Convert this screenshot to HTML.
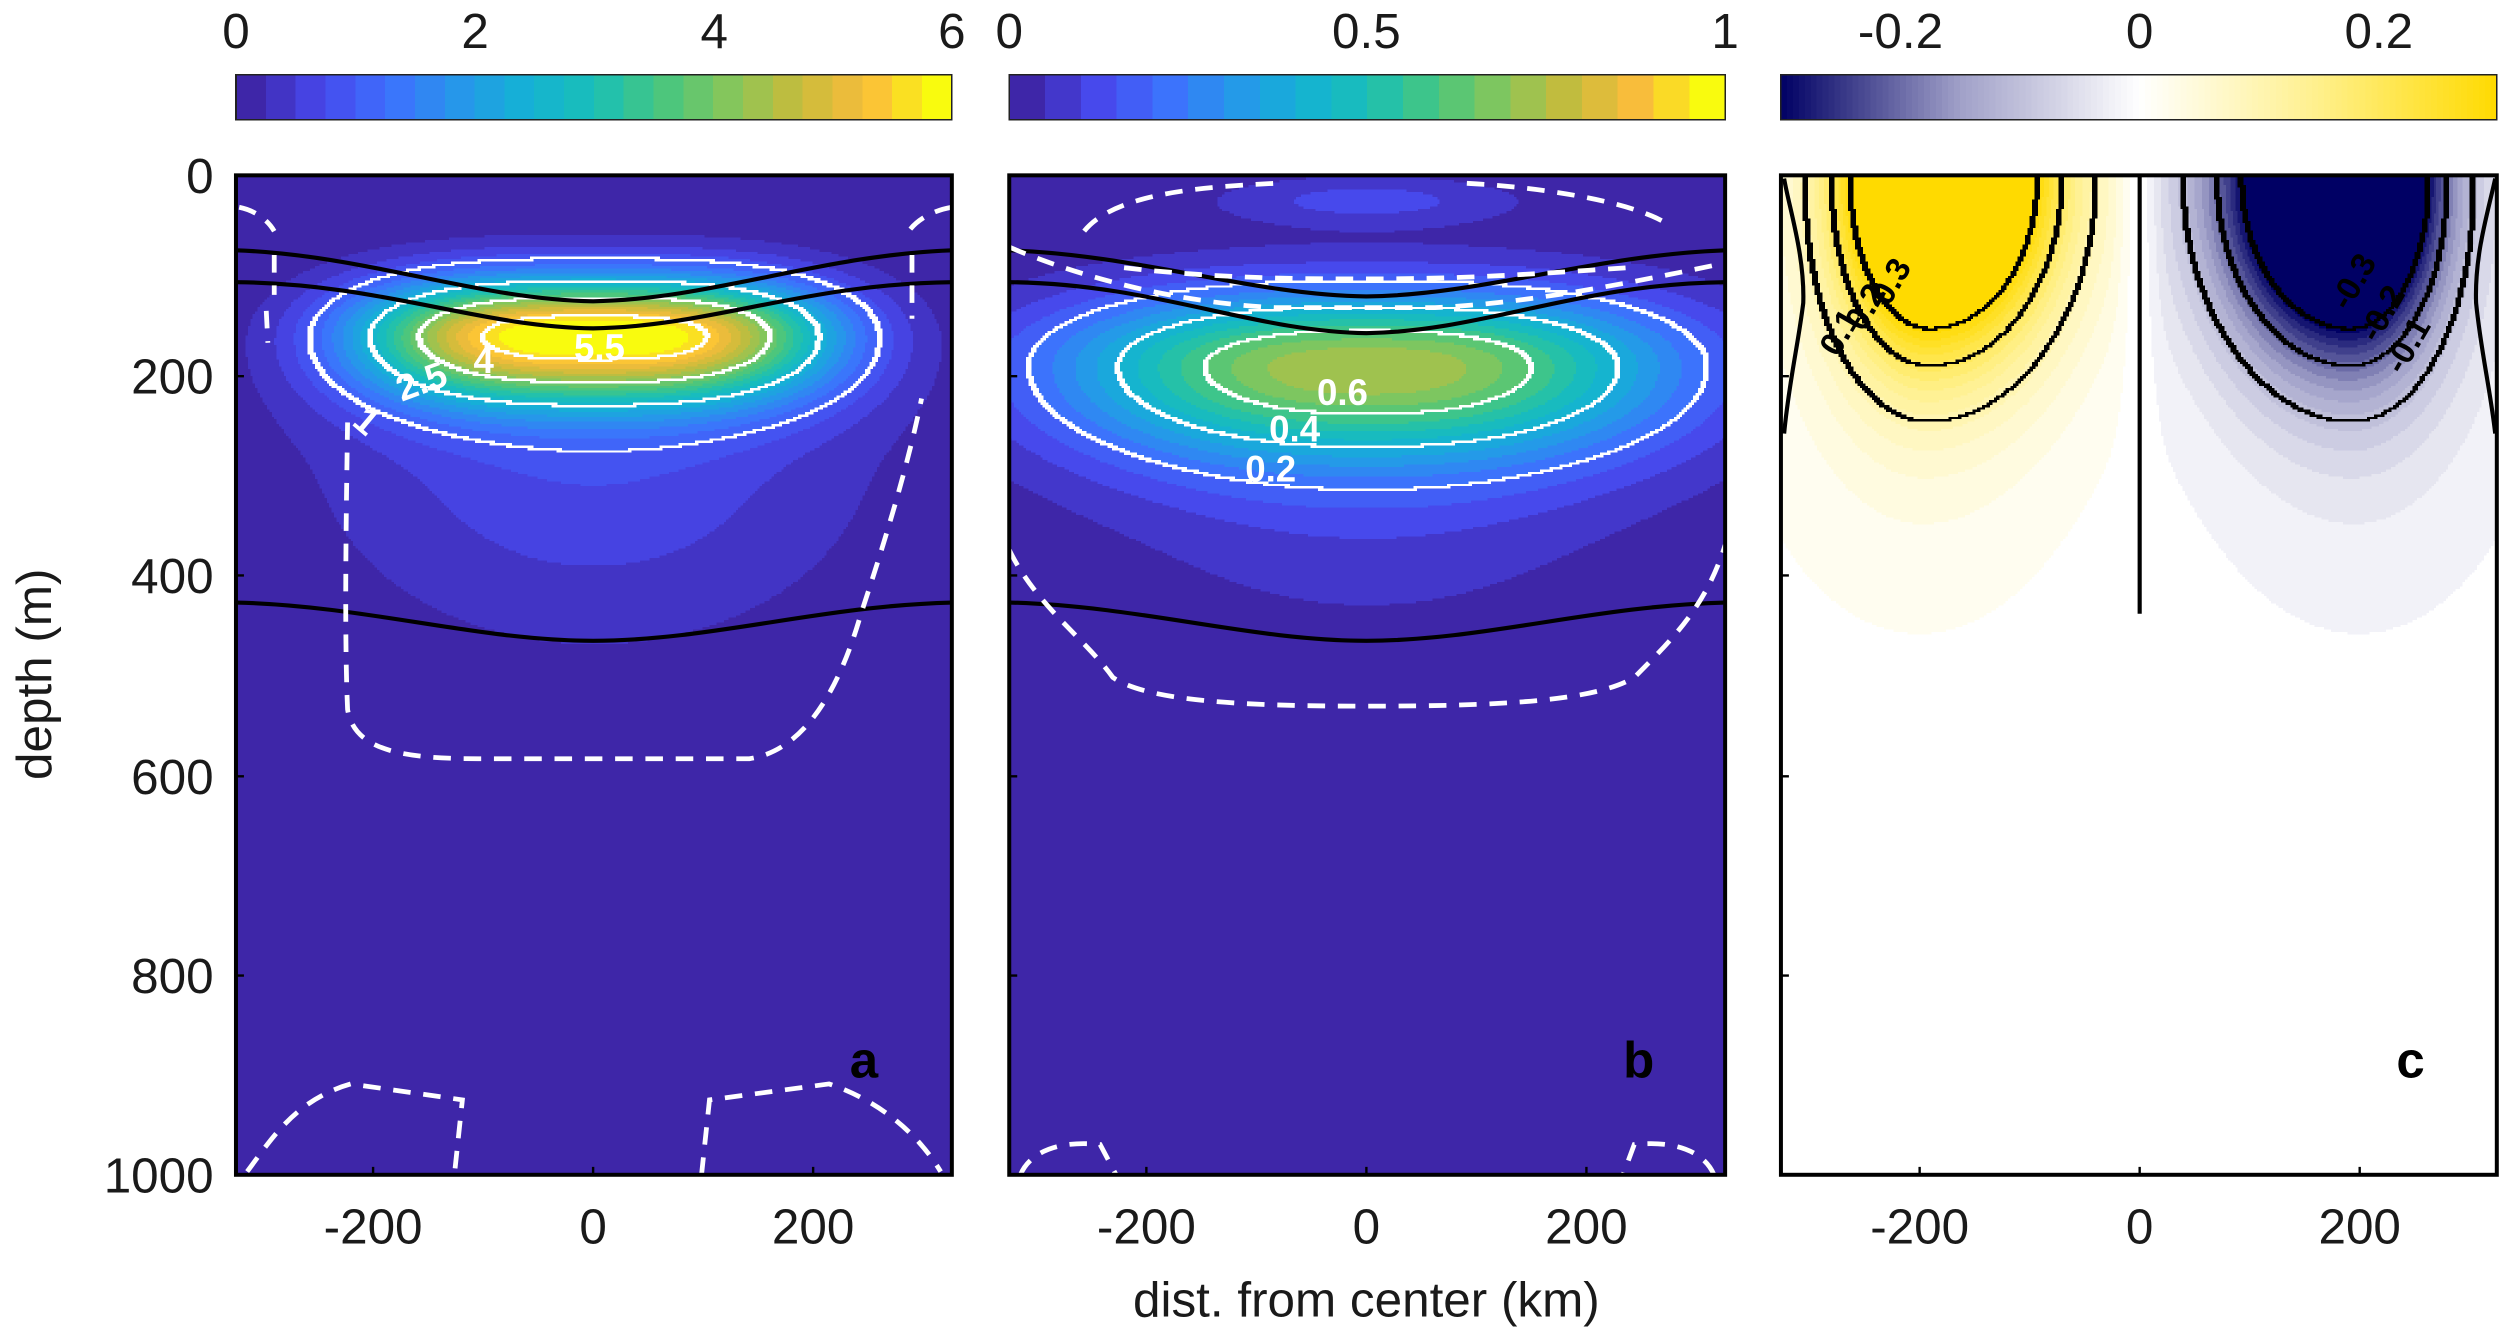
<!DOCTYPE html>
<html><head><meta charset="utf-8"><style>
html,body{margin:0;padding:0;background:#fff;}
#wrap{position:relative;width:2500px;height:1331px;overflow:hidden;}
svg{position:absolute;left:0;top:0;}
text{font-family:"Liberation Sans","DejaVu Sans",sans-serif;}
</style></head><body>
<div id="wrap">
<svg id="sv" width="2500" height="1331" viewBox="0 0 1568 835" preserveAspectRatio="none">
<g id="fields" shape-rendering="crispEdges"></g>
<g id="cbars" shape-rendering="crispEdges"></g>
<g fill="none" stroke="#000" stroke-width="2.6">
<path d="M148,157 C230,160 300,188 372,189 C445,188 515,160 597,157"/>
<path d="M148,177 C240,178 300,205 372,206 C445,205 505,178 597,177"/>
<path d="M148,378 C230,380 300,402 372,402 C445,402 515,380 597,378"/>
<path d="M633,157 C715,160 785,185 857,186 C930,185 1000,160 1082,157"/>
<path d="M633,177 C725,178 785,208 857,209 C930,208 990,178 1082,177"/>
<path d="M633,378 C715,380 785,402 857,402 C930,402 1000,380 1082,378"/>
<path d="M1342,110 L1342,385"/>
<path d="M1119,112 C1122,130 1132,160 1131,190 C1128,215 1122,240 1119,272"/>
<path d="M1565,112 C1560,135 1552,160 1553,190 C1556,220 1562,245 1565,272"/>
</g>
<g fill="none" stroke="#fff" stroke-width="3" stroke-dasharray="11 8">
<path d="M150,130 C160,132 168,138 172,145 M172,160 L172,185 M167,195 L168,215"/>
<path d="M218,265 C217,330 216,400 218,445 C222,470 250,476 300,476 L470,476 C510,470 530,420 540,385 C555,340 570,290 578,250"/>
<path d="M597,130 C585,132 575,138 570,145 M572,160 L572,200"/>
<path d="M155,735 C170,715 185,690 220,680 L290,690 L285,737"/>
<path d="M440,737 L445,690 L520,680 C550,690 575,710 590,735"/>
<path d="M680,145 C700,120 760,117 800,115 M920,115 C960,117 1020,125 1045,140"/>
<path d="M705,168 C760,174 800,175 857,175 C920,175 960,172 1020,168"/>
<path d="M633,155 C680,175 740,190 800,193 L900,193 C960,190 1020,178 1082,165"/>
<path d="M633,345 C650,380 680,400 698,425 C720,440 780,443 857,443 C940,443 1000,440 1025,425 C1050,400 1070,380 1082,342"/>
<path d="M640,737 C645,725 660,715 690,718 L700,737"/>
<path d="M1075,737 C1070,725 1055,715 1025,718 L1018,737"/>
</g>
<g fill="none" stroke="#000" stroke-width="2.5">
<rect x="148" y="110" width="449" height="627"/>
<rect x="633" y="110" width="449" height="627"/>
<rect x="1117" y="110" width="449" height="627"/>
</g>
<g stroke="#000" stroke-width="1.5">
<path d="M148,236h5M148,361h5M148,487h5M148,612h5M633,236h5M633,361h5M633,487h5M633,612h5M1117,236h5M1117,361h5M1117,487h5M1117,612h5"/>
<path d="M234,737v-5M372,737v-5M510,737v-5M719,737v-5M857,737v-5M995,737v-5M1204,737v-5M1342,737v-5M1480,737v-5"/>
</g>
<g font-size="31" fill="#1a1a1a" text-anchor="end">
<text x="134" y="121">0</text><text x="134" y="247">200</text><text x="134" y="372">400</text>
<text x="134" y="498">600</text><text x="134" y="623">800</text><text x="134" y="748">1000</text>
</g>
<g font-size="31" fill="#1a1a1a" text-anchor="middle">
<text x="234" y="780">-200</text><text x="372" y="780">0</text><text x="510" y="780">200</text>
<text x="719" y="780">-200</text><text x="857" y="780">0</text><text x="995" y="780">200</text>
<text x="1204" y="780">-200</text><text x="1342" y="780">0</text><text x="1480" y="780">200</text>
<text x="148" y="30">0</text><text x="298" y="30">2</text><text x="448" y="30">4</text><text x="597" y="30">6</text>
<text x="633" y="30">0</text><text x="857" y="30">0.5</text><text x="1082" y="30">1</text>
<text x="1192" y="30">-0.2</text><text x="1342" y="30">0</text><text x="1492" y="30">0.2</text>
<text x="857" y="826">dist. from center (km)</text>
<text transform="translate(32,423) rotate(-90)">depth (m)</text>
</g>
<g font-size="32" font-weight="bold" fill="#000">
<text x="533" y="676">a</text><text x="1018" y="676">b</text><text x="1503" y="676">c</text>
</g>
<g font-size="23" font-weight="bold" fill="#fff">
<text x="360" y="226">5.5</text>
<text x="297" y="234">4</text>
<text transform="translate(252,252) rotate(-20)">2.5</text>
<text transform="translate(220,266) rotate(40)">1</text>
<text x="826" y="254">0.6</text>
<text x="796" y="277">0.4</text>
<text x="781" y="302">0.2</text>
</g>
<g font-size="21" font-weight="bold" fill="#000" text-anchor="middle">
<text transform="translate(1192,180) rotate(-60)">0.3</text>
<text transform="translate(1176,196) rotate(-60)">0.2</text>
<text transform="translate(1160,212) rotate(-60)">0.1</text>
<text transform="translate(1482,180) rotate(-60)">-0.3</text>
<text transform="translate(1500,200) rotate(-60)">-0.2</text>
<text transform="translate(1516,220) rotate(-60)">-0.1</text>
</g>
</svg>
</div>
<script>
(function(){
var stops=[[0,62,38,168],[0.1,71,71,235],[0.2,62,111,254],[0.3,39,150,235],[0.4,20,177,213],[0.5,25,191,183],[0.6,71,198,127],[0.7,135,198,90],[0.8,200,187,59],[0.9,251,189,59],[1,249,251,14]];
function parula(t){t=Math.max(0,Math.min(1,t));for(var i=1;i<stops.length;i++){if(t<=stops[i][0]){var a=stops[i-1],b=stops[i];var u=(t-a[0])/(b[0]-a[0]);return [a[1]+(b[1]-a[1])*u,a[2]+(b[2]-a[2])*u,a[3]+(b[3]-a[3])*u];}}return [249,251,14];}
function dv(t){var u;
 if(t>=0){ if(t<0.5){u=t/0.5;return [255,255-15*u,255-115*u];} u=(t-0.5)/0.5;return [255,240-22*u,140-140*u];}
 t=-t; if(t<0.5){u=t/0.5;return [255-95*u,255-95*u,255-55*u];} u=(t-0.5)/0.5;return [160-160*u,160-160*u,200-100*u];}
function rgb(c){return 'rgb('+Math.round(c[0])+','+Math.round(c[1])+','+Math.round(c[2])+')';}
function fa(x,d){var gx=Math.exp(-Math.pow(Math.abs(x/210),3));var s=d<160?56:66;var q=(d-160)/s;var main=5.9*gx*Math.exp(-q*q);
 var r=(d-270)/(d<270?110:190);var tail=0.75*Math.exp(-(x/240)*(x/240))*Math.exp(-r*r);return main+tail;}
function fb(x,d){var q=(d-188)/(d<188?72:92);var main=0.68*Math.exp(-Math.pow(Math.abs(x/277),2.5))*Math.exp(-q*q);
 var r=(d-260)/(d<260?100:190);var tail=0.11*Math.exp(-(x/250)*(x/250))*Math.exp(-r*r);
 var z=(d-25)/25;var top=0.12*Math.exp(-(x/140)*(x/140))*Math.exp(-z*z);return main+tail+top;}
function fc(x,d){var u=Math.abs(x);var sg=x<0?1:-1;var s=u>190?79:108;var w=(u-190)/s;
 var cen=(1-Math.exp(-(u/15)*(u/15)));
 var h=Math.exp(-w*w)*cen;var g=Math.exp(-(d/162)*(d/162));
 var w2=(u-200)/140;var r=(d-150)/250;var t=0.045*Math.exp(-w2*w2)*Math.exp(-r*r)*cen;
 return sg*(0.634*h*g+t);}
var P=[
 {x0:148,f:fa,lev:function(v){return Math.min(23,Math.max(0,Math.floor(v/0.25)));},col:function(l){return parula(l/23);},cl:[1,2.5,4,5.5],lc:'#fff'},
 {x0:633,f:fb,lev:function(v){return Math.min(19,Math.max(0,Math.floor(v/0.05)));},col:function(l){return parula(l/19);},cl:[0.2,0.4,0.6],lc:'#fff'},
 {x0:1117,f:fc,lev:function(v){return Math.max(-15,Math.min(15,Math.round(v/0.02)));},col:function(l){return dv(l/15);},cl:[-0.3,-0.2,-0.1,0.1,0.2,0.3],lc:'#000'}];
var out=[];
var cs=1.5;
for(var pi=0;pi<P.length;pi++){var p=P[pi];
 var nx=Math.ceil(449/cs),ny=Math.ceil(627/cs);
 var L=new Array(nx*ny),C=new Array(nx*ny);
 for(var j=0;j<ny;j++){var d=((j+0.5)*cs)/0.627;
  for(var i=0;i<nx;i++){var x=((i+0.5)*cs-224.5)/0.6908;var v=p.f(x,d);
   L[j*nx+i]=p.lev(v);var n=0;for(var k=0;k<p.cl.length;k++)if(v>p.cl[k])n++;C[j*nx+i]=n;}}
 for(var j2=0;j2<ny;j2++){
  var y=110+j2*cs;var hh=Math.min(cs,737-y)+0.3;
  var start=0,cur=L[j2*nx];
  for(var i2=1;i2<=nx;i2++){
   if(i2===nx||L[j2*nx+i2]!==cur){var xx=p.x0+start*cs;var ww=Math.min((i2-start)*cs,p.x0+449-xx)+0.3;
    out.push('<rect x="'+xx.toFixed(2)+'" y="'+y.toFixed(2)+'" width="'+ww.toFixed(2)+'" height="'+hh.toFixed(2)+'" fill="'+rgb(p.col(cur))+'"/>');
    if(i2<nx){start=i2;cur=L[j2*nx+i2];}}
  }
  if(j2<ny-1){
   var i3=0;
   while(i3<nx-1){var c=C[j2*nx+i3];
    if(C[j2*nx+i3+1]!==c||C[(j2+1)*nx+i3]!==c){
     var s0=i3;while(i3<nx-1&&(C[j2*nx+i3+1]!==C[j2*nx+i3]||C[(j2+1)*nx+i3]!==C[j2*nx+i3]))i3++;
     out.push('<rect x="'+(p.x0+s0*cs).toFixed(2)+'" y="'+(y).toFixed(2)+'" width="'+((i3-s0+1)*cs+0.6).toFixed(2)+'" height="'+(cs+0.6).toFixed(2)+'" fill="'+p.lc+'"/>');
    }
    i3++;}
  }
 }
}
document.getElementById('fields').innerHTML=out.join('');
var s='';
function bar(x0,n,colf){var w=449/n;for(var i=0;i<n;i++){s+='<rect x="'+(x0+i*w).toFixed(2)+'" y="47" width="'+(w+0.4).toFixed(2)+'" height="28" fill="'+rgb(colf(i))+'"/>';}
 s+='<rect x="'+x0+'" y="47" width="449" height="28" fill="none" stroke="#222" stroke-width="1"/>';}
bar(148,24,function(i){return parula(i/23);});
bar(633,20,function(i){return parula(i/19);});
bar(1117,120,function(i){var v=-0.3+(i+0.5)*0.6/120;return dv(v/0.3);});
document.getElementById('cbars').innerHTML=s;
})();
</script>
</body></html>
